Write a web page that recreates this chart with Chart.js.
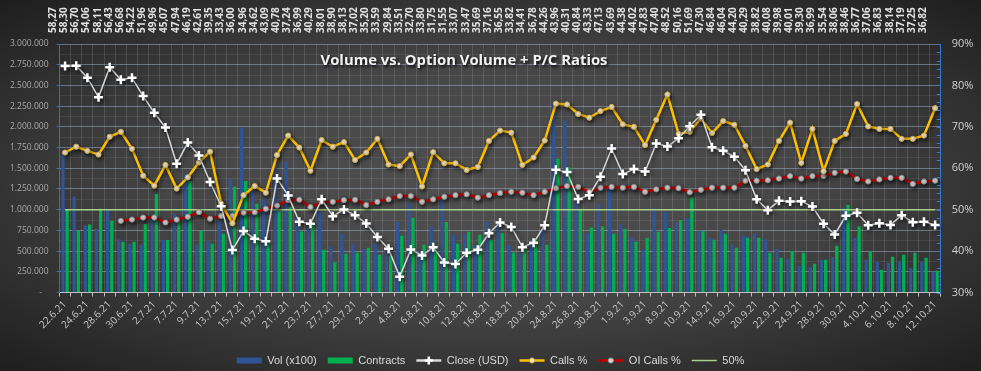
<!DOCTYPE html>
<html>
<head>
<meta charset="utf-8">
<script src="https://cdn.jsdelivr.net/npm/chart.js@4.4.1/dist/chart.umd.min.js"></script>
<style>
  html, body { margin: 0; padding: 0; }
  body {
    width: 981px; height: 371px; overflow: hidden;
    background: radial-gradient(ellipse farthest-corner at 50% 50%, #505050 0%, #464646 45%, #1e1e1e 100%);
  }
</style>
</head>
<body>
<canvas id="chart" width="981" height="371"></canvas>
<script>
// Volume vs. Option Volume + P/C Ratios

const dates = [
  "22.6.21","23.6.21","24.6.21","25.6.21","28.6.21","29.6.21","30.6.21",
  "1.7.21","2.7.21","6.7.21","7.7.21","8.7.21","9.7.21","12.7.21","13.7.21","14.7.21","15.7.21","16.7.21",
  "19.7.21","20.7.21","21.7.21","22.7.21","23.7.21","26.7.21","27.7.21","28.7.21","29.7.21","30.7.21",
  "2.8.21","3.8.21","4.8.21","5.8.21","6.8.21","9.8.21","10.8.21","11.8.21","12.8.21","13.8.21",
  "16.8.21","17.8.21","18.8.21","19.8.21","20.8.21","23.8.21","24.8.21","25.8.21","26.8.21","27.8.21","30.8.21","31.8.21",
  "1.9.21","2.9.21","3.9.21","7.9.21","8.9.21","9.9.21","10.9.21","13.9.21","14.9.21","15.9.21","16.9.21","17.9.21",
  "20.9.21","21.9.21","22.9.21","23.9.21","24.9.21","27.9.21","28.9.21","29.9.21","30.9.21",
  "1.10.21","4.10.21","5.10.21","6.10.21","7.10.21","8.10.21","11.10.21","12.10.21"
];

const volume = [
  1690000,1157000,810000,770000,990000,640000,590000,580000,890000,630000,
  950000,1440000,580000,625000,865000,1370000,1990000,1240000,1130000,1660000,
  1576000,900000,780000,976000,548000,708000,588000,524000,588000,500000,
  852000,1076000,500000,804000,1124000,692000,708000,570000,856000,836000,
  576000,480000,596000,756000,2270000,2076000,1096000,716000,1076000,1256000,
  828000,668000,516000,1024000,976000,852000,900000,744000,660000,756000,
  576000,688000,708000,644000,528000,408000,324000,308000,396000,428000,
  1024000,660000,396000,372000,360000,372000,300000,372000,252000
];

const contracts = [
  1000000,750000,820000,1010000,865000,610000,613000,827000,1190000,634000,
  884000,1345000,750000,590000,710000,1280000,1345000,1070000,600000,980000,
  1030000,736000,816000,516000,364000,468000,480000,540000,456000,440000,
  684000,900000,576000,564000,852000,588000,732000,696000,636000,716000,
  480000,520000,656000,576000,1616000,1508000,996000,784000,796000,708000,
  768000,612000,660000,732000,780000,876000,1148000,740000,636000,708000,
  540000,660000,660000,480000,420000,500000,480000,348000,396000,564000,
  1056000,796000,500000,276000,432000,456000,480000,420000,264000
];

const closeUsd = [
  58.27,58.30,56.70,54.06,58.11,56.43,56.68,54.22,51.96,49.96,
  45.07,47.94,46.19,42.61,39.35,33.43,36.00,34.96,34.62,43.09,
  40.78,37.24,36.99,40.29,38.01,38.90,38.13,37.02,35.20,33.59,
  29.84,33.51,32.70,33.80,31.75,31.55,33.07,33.47,35.69,37.16,
  36.55,33.82,34.41,36.78,44.26,43.96,40.31,40.84,43.33,47.13,
  43.69,44.38,44.02,47.83,47.40,48.52,50.16,51.69,47.30,46.84,
  46.04,44.20,40.29,38.82,40.08,39.98,40.01,39.30,36.99,35.54,
  38.06,38.46,36.77,37.06,36.83,38.14,37.19,37.25,36.82
];

const callsPct = [
  63.8,65.2,64.2,63.3,67.6,68.8,64.7,58.2,55.8,60.8,
  55.1,57.8,61.4,64.0,51.4,46.7,53.5,55.7,54.1,63.2,
  67.9,65.0,59.4,66.8,65.2,66.3,62.0,63.8,67.1,60.9,
  60.5,63.3,55.6,63.9,61.2,61.2,59.6,60.3,66.6,69.1,
  68.6,60.8,62.6,66.7,75.6,75.4,73.1,72.2,73.8,74.8,
  70.6,70.0,65.6,71.7,77.8,68.3,68.8,72.0,68.5,71.4,
  70.5,65.4,59.8,60.9,66.6,71.0,61.3,69.5,59.3,66.6,
  68.3,75.5,70.1,69.5,69.5,67.1,67.1,67.9,74.5
];

const oiCallsPct = [
  null,null,null,null,null,47.3,47.6,48.1,48.1,46.9,
  47.6,48.3,49.4,47.8,48.5,48.5,49.3,49.4,50.2,51.0,
  52.3,52.4,50.6,51.8,51.9,52.3,52.4,51.1,51.9,52.5,
  53.3,53.3,51.9,52.5,53.1,53.5,53.7,52.9,53.5,54.0,
  54.3,54.1,53.5,54.3,55.2,55.7,55.5,54.3,55.3,55.5,
  55.3,55.5,54.3,54.9,55.3,55.2,54.2,54.8,55.3,55.3,
  55.3,57.0,57.0,57.1,57.5,58.1,57.5,58.1,58.1,58.9,
  59.2,57.4,56.8,57.3,57.7,57.7,56.2,56.8,57.0
];

const fiftyLevel = 50;

const titleText = "Volume vs. Option Volume + P/C Ratios";

function fmtThousands(v) {
  if (v === 0) return "-   ";
  return String(v).replace(/\B(?=(\d{3})+(?!\d))/g, ".");
}

const closeLabels = closeUsd.map(v => v.toFixed(2).replace(".", ","));

Chart.defaults.font.family = "'Open Sans', 'Noto Sans', sans-serif";
Chart.defaults.color = "#c8c8c8";

const lineShadow = {
  id: "lineShadow",
  beforeDatasetDraw(chart, args) {
    const ds = chart.data.datasets[args.index];
    if (!ds.shadow) return;
    const ctx = chart.ctx;
    ctx.save();
    ctx.shadowColor = "rgba(0,0,0,0.6)";
    ctx.shadowBlur = 4;
    ctx.shadowOffsetX = 1.5;
    ctx.shadowOffsetY = 2;
  },
  afterDatasetDraw(chart, args) {
    const ds = chart.data.datasets[args.index];
    if (!ds.shadow) return;
    chart.ctx.restore();
  }
};

const extras = {
  id: "extras",
  afterDraw(chart) {
    const ctx = chart.ctx;

    // inward tick marks on the right axis
    const r = chart.scales.y1;
    ctx.save();
    ctx.strokeStyle = "#3a78d0";
    ctx.lineWidth = 1;
    r.ticks.forEach(t => {
      const y = Math.round(r.getPixelForValue(t.value)) + 0.5;
      ctx.beginPath();
      ctx.moveTo(r.left - 4, y);
      ctx.lineTo(r.left, y);
      ctx.stroke();
    });
    ctx.restore();

    // markers on the legend lines
    const lg = chart.legend;
    const fs = lg.options.labels.font.size;
    lg.legendItems.forEach((item, i) => {
      const ds = chart.data.datasets[item.datasetIndex];
      const hb = lg.legendHitBoxes[i];
      if (!ds.legendMarker || !hb) return;
      const cx = hb.left + 12.5;
      const cy = hb.top + fs / 2;
      ctx.save();
      if (ds.legendMarker === "cross") {
        ctx.strokeStyle = "#ffffff";
        ctx.lineWidth = 2.5;
        ctx.beginPath();
        ctx.moveTo(cx - 4, cy); ctx.lineTo(cx + 4, cy);
        ctx.moveTo(cx, cy - 4); ctx.lineTo(cx, cy + 4);
        ctx.stroke();
      } else {
        ctx.fillStyle = ds.pointBackgroundColor;
        ctx.strokeStyle = ds.pointBorderColor;
        ctx.lineWidth = 1;
        ctx.beginPath();
        ctx.arc(cx, cy, 2.6, 0, Math.PI * 2);
        ctx.fill();
        ctx.stroke();
      }
      ctx.restore();
    });

    // title over the plot
    ctx.save();
    let size = 15;
    ctx.font = "bold " + size + "px 'Open Sans'";
    const w = ctx.measureText(titleText).width;
    size = size * 287 / w;
    ctx.font = "bold " + size.toFixed(2) + "px 'Open Sans'";
    ctx.fillStyle = "#f2f2f2";
    ctx.textAlign = "center";
    ctx.textBaseline = "middle";
    ctx.shadowColor = "rgba(0,0,0,0.85)";
    ctx.shadowBlur = 3;
    ctx.shadowOffsetX = 1.5;
    ctx.shadowOffsetY = 1.5;
    ctx.fillText(titleText, 464, 61);
    ctx.restore();
  }
};

const ctx = document.getElementById("chart").getContext("2d");
new Chart(ctx, {
  type: "bar",
  data: {
    labels: dates,
    datasets: [
      {
        type: "bar", label: "Vol (x100)", data: volume,
        backgroundColor: "#2f5597", borderColor: "#2f5597", borderWidth: 0,
        xAxisID: "x", yAxisID: "y", order: 5,
        categoryPercentage: 0.75, barPercentage: 0.78
      },
      {
        type: "bar", label: "Contracts", data: contracts,
        backgroundColor: "#00b050", borderColor: "#00b050", borderWidth: 0,
        xAxisID: "x", yAxisID: "y", order: 5,
        categoryPercentage: 0.75, barPercentage: 0.78
      },
      {
        type: "line", label: "Close (USD)", data: closeUsd,
        borderColor: "#d9d9d9", borderWidth: 1.5,
        pointStyle: "cross", pointRadius: 4.5, pointBorderWidth: 2.5,
        pointBorderColor: "#ffffff", pointBackgroundColor: "#ffffff",
        xAxisID: "x", yAxisID: "yc", order: 0, tension: 0,
        shadow: true, legendMarker: "cross"
      },
      {
        type: "line", label: "Calls %", data: callsPct,
        borderColor: "#ffc000", borderWidth: 2.5,
        pointStyle: "circle", pointRadius: 2.6, pointBorderWidth: 1,
        pointBackgroundColor: "#f6e7c4", pointBorderColor: "#c9a54a",
        xAxisID: "x", yAxisID: "y1", order: 1, tension: 0,
        shadow: true, legendMarker: "circle"
      },
      {
        type: "line", label: "OI Calls %", data: oiCallsPct,
        borderColor: "#c00000", borderWidth: 2.5,
        pointStyle: "circle", pointRadius: 2.6, pointBorderWidth: 1,
        pointBackgroundColor: "#d4d4d4", pointBorderColor: "#8a8a8a",
        xAxisID: "x", yAxisID: "y1", order: 2, tension: 0,
        shadow: true, legendMarker: "circle"
      },
      {
        type: "line", label: "50%", data: dates.map(() => fiftyLevel),
        borderColor: "#a9d18e", borderWidth: 1.5, pointRadius: 0,
        xAxisID: "x", yAxisID: "y1", order: 3
      }
    ]
  },
  options: {
    responsive: false,
    animation: false,
    devicePixelRatio: 1,
    layout: { padding: { top: 0, left: 0, right: 0, bottom: -5 } },
    plugins: {
      tooltip: { enabled: false },
      title: { display: false },
      legend: {
        position: "bottom",
        labels: {
          usePointStyle: true,
          pointStyleWidth: 25,
          boxHeight: 6,
          padding: 11,
          color: "#d9d9d9",
          font: { size: 11, family: "'Liberation Sans', Arial, sans-serif" },
          generateLabels(chart) {
            return chart.data.datasets.map((ds, i) => ({
              text: ds.label,
              datasetIndex: i,
              fillStyle: ds.backgroundColor || ds.borderColor,
              strokeStyle: ds.borderColor,
              lineWidth: ds.type === "bar" ? 0 : (ds.label === "50%" ? 1.5 : 2.5),
              pointStyle: ds.type === "bar" ? "rect" : "line",
              fontColor: "#d9d9d9",
              hidden: false
            }));
          }
        }
      }
    },
    scales: {
      x: {
        type: "category",
        position: "bottom",
        offset: true,
        grid: { color: "rgba(255,255,255,0.13)", offset: true, tickLength: 4, tickColor: "#bfbfbf" },
        border: { color: "#bfbfbf" },
        ticks: {
          autoSkip: false, minRotation: 45, maxRotation: 45,
          color: "#c8c8c8", font: { size: 10 }, padding: 2,
          callback(v, i) { return i % 2 === 0 ? dates[i] : ""; }
        },
        afterFit(s) { s.height = 51.5; }
      },
      xTop: {
        type: "category",
        position: "top",
        labels: closeLabels,
        offset: true,
        grid: { display: false, drawTicks: false },
        border: { display: false },
        ticks: {
          autoSkip: false, minRotation: 90, maxRotation: 90,
          color: "#e2e2e2", font: { size: 10, weight: "bold" }, padding: 11
        },
        afterFit(s) { s.height = 44; }
      },
      y: {
        position: "left",
        min: 0, max: 3000000,
        grid: {
          color: c => (c.tick.value % 250000 === 0 ? "rgba(165,180,205,0.5)" : "rgba(255,255,255,0.07)"),
          tickColor: c => (c.tick.value % 250000 === 0 ? "#2e75b6" : "rgba(0,0,0,0)"),
          tickLength: 3
        },
        border: { color: "#2e75b6" },
        ticks: {
          stepSize: 125000, autoSkip: false,
          color: "#a8a8a8", font: { size: 8.5 }, padding: 8,
          callback(v) { return v % 250000 === 0 ? fmtThousands(v) : ""; }
        },
        afterFit(s) { s.width = 59.5; }
      },
      y1: {
        position: "right",
        min: 30, max: 90,
        grid: { drawOnChartArea: false, drawTicks: false },
        border: { color: "#3a78d0" },
        ticks: {
          stepSize: 2, autoSkip: false,
          color: "#d0d0d0", font: { size: 11 }, padding: 11,
          callback(v) { return v % 10 === 0 ? v + "%" : ""; }
        },
        afterFit(s) { s.width = 40.3; }
      },
      yc: {
        position: "right",
        display: false,
        min: 27.7, max: 61.25
      }
    }
  },
  plugins: [lineShadow, extras]
});
</script>
</body>
</html>
